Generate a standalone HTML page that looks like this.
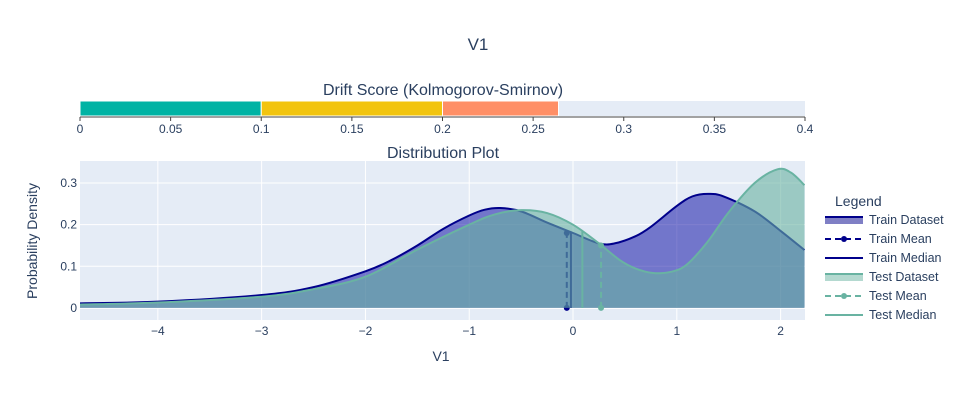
<!DOCTYPE html>
<html><head><meta charset="utf-8"><style>
body{margin:0;background:#fff;}
svg text{font-family:"Liberation Sans",Arial,sans-serif;fill:#2a3f5f;}
</style></head><body>
<svg id="c" width="957" height="400" xmlns="http://www.w3.org/2000/svg">
<text x="478" y="50" font-size="17" text-anchor="middle">V1</text>
<text x="443" y="95" font-size="16" text-anchor="middle">Drift Score (Kolmogorov-Smirnov)</text>
<text x="443" y="158" font-size="16" text-anchor="middle">Distribution Plot</text>
<g id="gauge"></g>
<g id="plot"></g>
<text x="441" y="361" font-size="14" text-anchor="middle">V1</text>
<text transform="translate(37,241) rotate(-90)" font-size="14" text-anchor="middle">Probability Density</text>
<g id="legend"></g>
</svg>
<script>
const gaugeTicks=[0,0.05,0.1,0.15,0.2,0.25,0.3,0.35,0.4];
const gaugeBands=[0,0.1,0.2];
const gaugeBandColors=["#00b3a4","#f2c40f","#ff8f66"];
const driftScore=0.264;
const xTicks=[-4,-3,-2,-1,0,1,2];
const yTicks=[0,0.1,0.2,0.3];
const trainX=[-4.75,-4,-3,-2.5,-2,-1.75,-1.5,-1.25,-1,-0.85,-0.7,-0.5,-0.25,0,0.25,0.4,0.6,0.75,1.0,1.15,1.3,1.45,1.75,2.0,2.23];
const trainY=[0.011,0.015,0.031,0.05,0.088,0.115,0.15,0.19,0.222,0.236,0.24,0.232,0.205,0.18,0.155,0.155,0.172,0.195,0.245,0.268,0.274,0.268,0.232,0.185,0.139];
const testX=[-4.75,-4,-3,-2.5,-2,-1.5,-1,-0.75,-0.5,-0.25,0,0.25,0.45,0.6,0.77,0.95,1.1,1.3,1.5,1.75,1.97,2.1,2.23];
const testY=[0.008,0.013,0.027,0.045,0.075,0.14,0.2,0.225,0.235,0.228,0.2,0.155,0.115,0.095,0.084,0.087,0.105,0.16,0.23,0.3,0.333,0.325,0.295];
const trainMean=[-0.06,0.18], trainMedian=-0.02, testMean=[0.27,0.15], testMedian=0.09;
const NS="http://www.w3.org/2000/svg";
function mk(p,t,a){const e=document.createElementNS(NS,t);for(const k in a)e.setAttribute(k,a[k]);p.appendChild(e);return e;}
const g=document.getElementById('gauge');
const gx=v=>80+v/0.4*725;
const gbg=mk(g,'rect',{x:80,y:101,width:725,height:15,fill:'#e5ecf6'});


gaugeBands.forEach((b,i)=>{const end=Math.min(i<gaugeBands.length-1?gaugeBands[i+1]:driftScore,driftScore);
const r=mk(g,'rect',{x:gx(b),y:101,width:gx(end)-gx(b),height:15,fill:gaugeBandColors[i],stroke:'#fff','stroke-width':1});

});
mk(g,'line',{x1:80,x2:805,y1:117,y2:117,stroke:'#444','stroke-width':1});
gaugeTicks.forEach(t=>{mk(g,'line',{x1:gx(t),x2:gx(t),y1:117,y2:121,stroke:'#444'});
const tx=mk(g,'text',{x:gx(t),y:133,'font-size':12,'text-anchor':'middle'});tx.textContent=String(t);

});
const p=document.getElementById('plot');
const L=80,R=805,T=161,B=320,x0=-4.75,x1=2.235,y0=-0.029,y1=0.353;
const sx=v=>L+(v-x0)/(x1-x0)*(R-L), sy=v=>B-(v-y0)/(y1-y0)*(B-T);
mk(p,'rect',{x:L,y:T,width:R-L,height:B-T,fill:'#e5ecf6'});
xTicks.forEach(t=>{mk(p,'line',{x1:sx(t),x2:sx(t),y1:T,y2:B,stroke:'#fff','stroke-width':1});
const tx=mk(p,'text',{x:sx(t),y:B+15,'font-size':12,'text-anchor':'middle'});tx.textContent=t<0?'\u2212'+(-t):String(t);

});
yTicks.forEach(t=>{mk(p,'line',{x1:L,x2:R,y1:sy(t),y2:sy(t),stroke:'#fff','stroke-width':t===0?2:1});
const tx=mk(p,'text',{x:L-3,y:sy(t)+4,'font-size':12,'text-anchor':'end'});tx.textContent=String(t);

});
function path(xs,ys){const P=xs.map((x,i)=>[sx(x),sy(ys[i])]);let d='M'+P[0][0]+','+P[0][1];
for(let i=0;i<P.length-1;i++){const a=P[Math.max(0,i-1)],b=P[i],c=P[i+1],e=P[Math.min(P.length-1,i+2)];
d+=' C'+(b[0]+(c[0]-a[0])/6)+','+(b[1]+(c[1]-a[1])/6)+' '+(c[0]-(e[0]-b[0])/6)+','+(c[1]-(e[1]-b[1])/6)+' '+c[0]+','+c[1];}return d;}
const cp=mk(p,'clipPath',{id:'cl'});mk(cp,'rect',{x:L,y:T,width:R-L,height:B-T});
const pg=mk(p,'g',{'clip-path':'url(#cl)'});
const tp=path(trainX,trainY),ep=path(testX,testY);
function interp(xs,ys,x){for(let i=0;i<xs.length-1;i++)if(x>=xs[i]&&x<=xs[i+1])return ys[i]+(ys[i+1]-ys[i])*(x-xs[i])/(xs[i+1]-xs[i]);return 0;}
function vline(x,y,col,dash,dots,name){const l=mk(pg,'line',{x1:sx(x),x2:sx(x),y1:sy(0),y2:sy(y),stroke:col,'stroke-width':2,'stroke-dasharray':dash?'6,4':'none'});


if(dots){mk(pg,'circle',{cx:sx(x),cy:sy(0),r:3,fill:col});mk(pg,'circle',{cx:sx(x),cy:sy(y),r:3,fill:col});}}
const tf=mk(pg,'path',{d:tp+` L${sx(trainX[trainX.length-1])},${sy(0)} L${sx(trainX[0])},${sy(0)} Z`,fill:'rgba(0,0,160,0.5)'});


const tl=mk(pg,'path',{d:tp,fill:'none',stroke:'#00008b','stroke-width':2});


vline(trainMean[0],trainMean[1],'#00008b',true,true,'train-mean-line');
vline(trainMedian,interp(trainX,trainY,trainMedian),'#00008b',false,false,'train-median-line');
const ef=mk(pg,'path',{d:ep+` L${sx(testX[testX.length-1])},${sy(0)} L${sx(testX[0])},${sy(0)} Z`,fill:'rgba(105,179,162,0.6)'});


const el=mk(pg,'path',{d:ep,fill:'none',stroke:'#69b3a2','stroke-width':2});


vline(testMedian,interp(testX,testY,testMedian),'#69b3a2',false,false,'test-median-line');
vline(testMean[0],testMean[1],'#69b3a2',true,true,'test-mean-line');
const lg=document.getElementById('legend');
const lt=mk(lg,'text',{x:835,y:206,'font-size':14});lt.textContent='Legend';
const entries=[['Train Dataset','#00008b','area'],['Train Mean','#00008b','dash'],['Train Median','#00008b','line'],['Test Dataset','#69b3a2','area'],['Test Mean','#69b3a2','dash'],['Test Median','#69b3a2','line']];
entries.forEach((e,i)=>{const y=220+i*19;
if(e[2]==='area'){mk(lg,'rect',{x:825,y:y-4,width:38,height:8,fill:e[1],'fill-opacity':0.5});mk(lg,'line',{x1:825,x2:863,y1:y-3,y2:y-3,stroke:e[1],'stroke-width':2});}
else{mk(lg,'line',{x1:825,x2:863,y1:y,y2:y,stroke:e[1],'stroke-width':2,'stroke-dasharray':e[2]==='dash'?'6,4':'none'});if(e[2]==='dash')mk(lg,'circle',{cx:844,cy:y,r:3,fill:e[1]});}
const t=mk(lg,'text',{x:869,y:y+4,'font-size':12.5});t.textContent=e[0];

});
</script>
</body></html>
